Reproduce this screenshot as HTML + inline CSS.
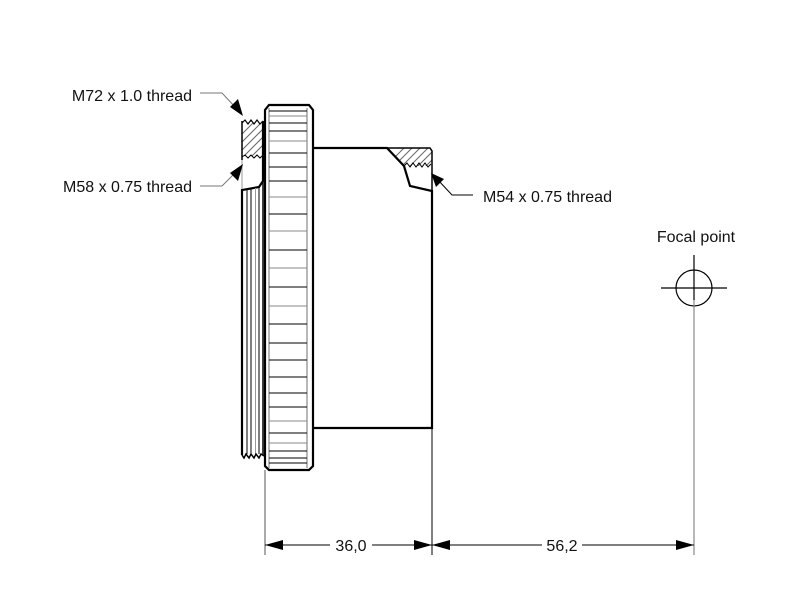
<!DOCTYPE html>
<html><head><meta charset="utf-8"><style>
html,body{margin:0;padding:0;background:#fff;}
svg{display:block}
text{font-family:"Liberation Sans",Arial,sans-serif;font-size:16px;fill:#111}
</style></head><body>
<svg width="800" height="614" viewBox="0 0 800 614" xmlns="http://www.w3.org/2000/svg">
<defs>
<clipPath id="c1"><rect x="242" y="123" width="21" height="33"/></clipPath>
<clipPath id="c2"><path d="M387,148 L430,148 L432,151 L432,166 L404,166 Z"/></clipPath>
</defs>
<!-- left thread top section -->
<g clip-path="url(#c1)" stroke="#666" stroke-width="1">
<line x1="232" y1="160" x2="272" y2="120"/><line x1="240" y1="160" x2="280" y2="120"/>
<line x1="224" y1="160" x2="264" y2="120"/><line x1="216" y1="160" x2="256" y2="120"/>
<line x1="248" y1="160" x2="288" y2="120"/>
</g>
<polyline points="242,123 245,120 248,124 251,120 254,124 257,120 260,124 263,121" fill="none" stroke="#000" stroke-width="1.2"/>
<polyline points="242,157 245,155 248,158 251,155 254,158 257,155 260,158 263,155" fill="none" stroke="#000" stroke-width="1"/>
<line x1="242" y1="121" x2="242" y2="160" stroke="#000" stroke-width="1.5"/>
<line x1="242" y1="160" x2="242" y2="190" stroke="#999" stroke-width="1"/>
<polyline points="263,121 263,181 259,187 242,190 242,455" fill="none" stroke="#000" stroke-width="2.2"/>
<line x1="247" y1="189" x2="247" y2="454" stroke="#000" stroke-width="1"/>
<line x1="251" y1="188" x2="251" y2="454" stroke="#000" stroke-width="1"/>
<line x1="255.5" y1="188" x2="255.5" y2="454" stroke="#999" stroke-width="1"/>
<line x1="259" y1="187" x2="259" y2="454" stroke="#000" stroke-width="1"/>
<line x1="263" y1="181" x2="263" y2="455" stroke="#000" stroke-width="1.5"/>
<polyline points="242,455 244,458 246,454 249,458 251,454 254,458 256,454 259,458 261,454 264,456" fill="none" stroke="#000" stroke-width="1.5"/>
<!-- knurled ring -->
<path d="M269,105 L309,105 L313,110 L313,466 L309,470 L269,470 L265,466 L265,110 Z" fill="#fff" stroke="#000" stroke-width="2.2"/>
<line x1="269" y1="108" x2="269" y2="468" stroke="#888" stroke-width="1.2"/>
<line x1="307" y1="108" x2="307" y2="468" stroke="#888" stroke-width="1.2"/>
<g stroke="#000" stroke-width="1">
<line x1="269" x2="307" y1="111" y2="111"/><line x1="269" x2="307" y1="116" y2="116" stroke="#888"/>
<line x1="269" x2="307" y1="123" y2="123"/><line x1="269" x2="307" y1="131" y2="131"/>
<line x1="269" x2="307" y1="141" y2="141" stroke="#888"/><line x1="269" x2="307" y1="153" y2="153"/>
<line x1="269" x2="307" y1="167" y2="167"/><line x1="269" x2="307" y1="181" y2="181"/>
<line x1="269" x2="307" y1="197" y2="197" stroke="#888"/><line x1="269" x2="307" y1="214" y2="214"/>
<line x1="269" x2="307" y1="231" y2="231" stroke="#888"/><line x1="269" x2="307" y1="250" y2="250"/>
<line x1="269" x2="307" y1="268" y2="268" stroke="#888"/><line x1="269" x2="307" y1="287" y2="287"/>
<line x1="269" x2="307" y1="306" y2="306" stroke="#888"/><line x1="269" x2="307" y1="324" y2="324"/>
<line x1="269" x2="307" y1="343" y2="343"/><line x1="269" x2="307" y1="360" y2="360"/>
<line x1="269" x2="307" y1="377" y2="377"/><line x1="269" x2="307" y1="393" y2="393"/>
<line x1="269" x2="307" y1="407" y2="407"/><line x1="269" x2="307" y1="421" y2="421" stroke="#888"/>
<line x1="269" x2="307" y1="433" y2="433"/><line x1="269" x2="307" y1="443" y2="443" stroke="#888"/>
<line x1="269" x2="307" y1="451" y2="451"/><line x1="269" x2="307" y1="458" y2="458"/>
<line x1="269" x2="307" y1="463" y2="463"/>
</g>
<!-- body -->
<g clip-path="url(#c2)" stroke="#666" stroke-width="1">
<line x1="390" y1="170" x2="415" y2="145"/><line x1="398" y1="170" x2="423" y2="145"/>
<line x1="406" y1="170" x2="431" y2="145"/><line x1="414" y1="170" x2="439" y2="145"/>
<line x1="422" y1="170" x2="447" y2="145"/><line x1="382" y1="170" x2="407" y2="145"/>
</g>
<polyline points="404,166 407,163 410,167 413,163 416,167 419,163 422,167 425,163 428,167 431,164" fill="none" stroke="#000" stroke-width="1"/>
<polyline points="313,148 387,148 404,166 410,186 432,191 432,428 313,428" fill="none" stroke="#000" stroke-width="2.2"/>
<polyline points="387,148 430,148 432,151 432,191" fill="none" stroke="#000" stroke-width="1.5"/>
<!-- leaders -->
<polyline points="200,93 222,93 236,108" fill="none" stroke="#777" stroke-width="1"/>
<polygon points="243,116 230,107 238,99" fill="#000"/>
<polyline points="200,186 222,186 236,172" fill="none" stroke="#777" stroke-width="1"/>
<polygon points="243,164 230,173 238,181" fill="#000"/>
<polyline points="473,195 452,195 438,180" fill="none" stroke="#000" stroke-width="1"/>
<polygon points="431,173 436,187 444,179" fill="#000"/>
<text x="192" y="101" text-anchor="end">M72 x 1.0 thread</text>
<text x="192" y="192" text-anchor="end">M58 x 0.75 thread</text>
<text x="483" y="202">M54 x 0.75 thread</text>
<!-- focal point -->
<text x="696" y="242" text-anchor="middle">Focal point</text>
<circle cx="694" cy="288" r="18" fill="none" stroke="#000" stroke-width="1.2"/>
<line x1="661" y1="288" x2="727" y2="288" stroke="#000" stroke-width="1.2"/>
<line x1="694" y1="255" x2="694" y2="300" stroke="#000" stroke-width="1.2"/>
<line x1="694" y1="300" x2="694" y2="555" stroke="#888" stroke-width="1.2"/>
<!-- dimensions -->
<line x1="265" y1="470" x2="265" y2="555" stroke="#555" stroke-width="1"/>
<line x1="432" y1="428" x2="432" y2="555" stroke="#000" stroke-width="1"/>
<line x1="265" y1="545" x2="330" y2="545" stroke="#000" stroke-width="1"/>
<line x1="372" y1="545" x2="432" y2="545" stroke="#000" stroke-width="1"/>
<line x1="432" y1="545" x2="542" y2="545" stroke="#000" stroke-width="1"/>
<line x1="582" y1="545" x2="694" y2="545" stroke="#000" stroke-width="1"/>
<polygon points="265,545 283,540 283,550" fill="#000"/>
<polygon points="432,545 414,540 414,550" fill="#000"/>
<polygon points="432,545 450,540 450,550" fill="#000"/>
<polygon points="694,545 676,540 676,550" fill="#000"/>
<text x="351" y="551" text-anchor="middle">36,0</text>
<text x="562" y="551" text-anchor="middle">56,2</text>
</svg>
</body></html>
